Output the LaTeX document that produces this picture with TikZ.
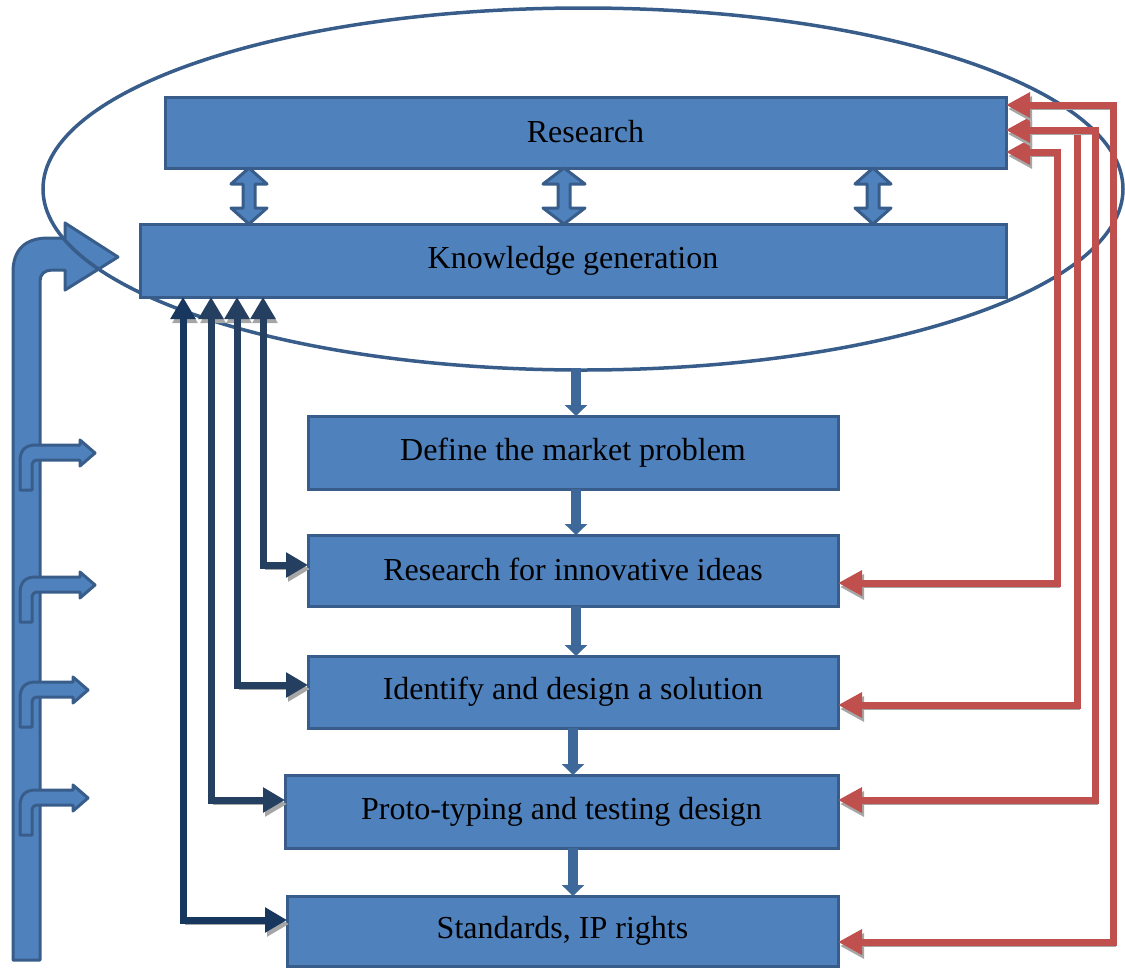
\documentclass[tikz,border=0pt]{standalone}
\usepackage{fontspec}
\setmainfont{Liberation Serif}
\usetikzlibrary{arrows.meta,calc,shapes.geometric}
\definecolor{boxfill}{HTML}{4F81BD}
\definecolor{boxline}{HTML}{385D8A}
\definecolor{redarr}{HTML}{C0504D}
\definecolor{darkA}{HTML}{17375E}
\definecolor{darkB}{HTML}{243F60}
\definecolor{downc}{HTML}{3E6899}
\definecolor{shadowc}{HTML}{A6A6A6}
\begin{document}
\begin{tikzpicture}[x=1pt,y=-1pt,
  box/.style={draw=boxline,fill=boxfill,line width=3pt,inner sep=0pt,outer sep=0pt,
    font=\fontsize{32}{36}\selectfont,text=black},
  shp/.style={draw=boxline,fill=boxfill,line width=3pt,line join=round},
  shad/.style={preaction={draw=shadowc,transform canvas={shift={(2pt,-4pt)}}}},
  redc/.style={draw=redarr,line width=7pt,shad,
    {Triangle[length=24pt,width=24pt]}-{Triangle[length=24pt,width=24pt]}},
  darkc/.style={line width=7pt,shad,
    {Triangle[length=22pt,width=24pt]}-{Triangle[length=22pt,width=24pt]}},
  downa/.style={draw=downc,line width=10pt,-{Triangle[length=11pt,width=22pt]}}
]
\useasboundingbox (0,0) rectangle (1125,967);

% big bent arrow on the left
\path[shp] (13,960) -- (13,272) .. controls (13,250) and (25,238) .. (48,238)
  -- (65,238) -- (65,223) -- (118,257) -- (65,290) -- (65,270) -- (52,270)
  .. controls (45,270) and (40,274) .. (40,281) -- (40,960) -- cycle;
% small bent arrows
\foreach \y/\t in {453/95,585/95,690/88,798/88}{
  \path[shp] (20,\y+37) -- (20,\y+9) .. controls (20,\y-3) and (25,\y-8) .. (36,\y-8)
    -- (\t-15,\y-8) -- (\t-15,\y-13) -- (\t,\y) -- (\t-15,\y+13) -- (\t-15,\y+7)
    -- (38,\y+7) .. controls (34,\y+7) and (32,\y+9) .. (32,\y+13) -- (32,\y+37) -- cycle;
}

% ellipse
\node[draw=boxline,line width=3.5pt,ellipse,minimum width=1080pt,minimum height=362pt,
  inner sep=0pt,outer sep=0pt] (ell) at (583,189) {};

% boxes
\node[box,minimum width=841pt,minimum height=71pt] (res) at (585.5,132.5) {\raisebox{3pt}{Research}};
\node[box,minimum width=866pt,minimum height=73pt] (kg) at (573,260.5) {Knowledge generation};
\node[box,minimum width=530pt,minimum height=73pt] (def) at (573,452.5) {Define the market problem};
\node[box,minimum width=530pt,minimum height=71pt] (rii) at (573,570.5) {\raisebox{2pt}{Research for innovative ideas}};
\node[box,minimum width=530pt,minimum height=72pt] (ids) at (573,692) {Identify and design a solution};
\node[box,minimum width=553pt,minimum height=73pt] (pt) at (561.5,811.5) {Proto-typing and testing design};
\node[box,minimum width=551pt,minimum height=70pt] (st) at (562.5,931) {Standards, IP rights};

% double arrows between Research and Knowledge generation
\foreach \cx/\hw in {249/18,564/21,873/18}{
  \path[shp] (\cx,168) -- (\cx+\hw,184) -- (\cx+6,184) -- (\cx+6,208) -- (\cx+\hw,208)
    -- (\cx,224) -- (\cx-\hw,208) -- (\cx-6,208) -- (\cx-6,184) -- (\cx-\hw,184) -- cycle;
}

% down arrows
\draw[downa] (def.north |- ell.south) ++(3,-2) -- ($(def.north)+(3,0)$);
\draw[downa] ($(def.south)+(3,0)$) -- ($(rii.north)+(3,0)$);
\draw[downa] ($(rii.south)+(3,0)$) -- ($(ids.north)+(3,0)$);
\draw[downa] (ids.south) -- (ids.south |- pt.north);
\draw[downa] (ids.south |- pt.south) -- (ids.south |- st.north);

% dark blue connectors
\draw[darkc,draw=darkB] ($(kg.south west)+(123,0)$) |- ($(rii.west)+(0,-5.5)$);
\draw[darkc,draw=darkB] ($(kg.south west)+(97,0)$) |- ($(ids.west)+(0,-7)$);
\draw[darkc,draw=darkB] ($(kg.south west)+(71,0)$) |- ($(pt.west)+(0,-11.5)$);
\draw[darkc,draw=darkA] ($(kg.south west)+(43,0)$) |- ($(st.west)+(0,-11)$);

% red connectors
\draw[redc] ($(res.east)+(0,19.5)$) -| (1057,583) -- ($(rii.east)+(0,12.5)$);
\draw[redc] ($(res.east)+(0,-2.5)$) -| (1077,705) -- ($(ids.east)+(0,13)$);
\draw[redc] ($(res.east)+(0,-2.5)$) -| (1095,800) -- ($(pt.east)+(0,-11.5)$);
\draw[redc] ($(res.east)+(0,-27.5)$) -| (1113,942) -- ($(st.east)+(0,11)$);
\end{tikzpicture}
\end{document}
